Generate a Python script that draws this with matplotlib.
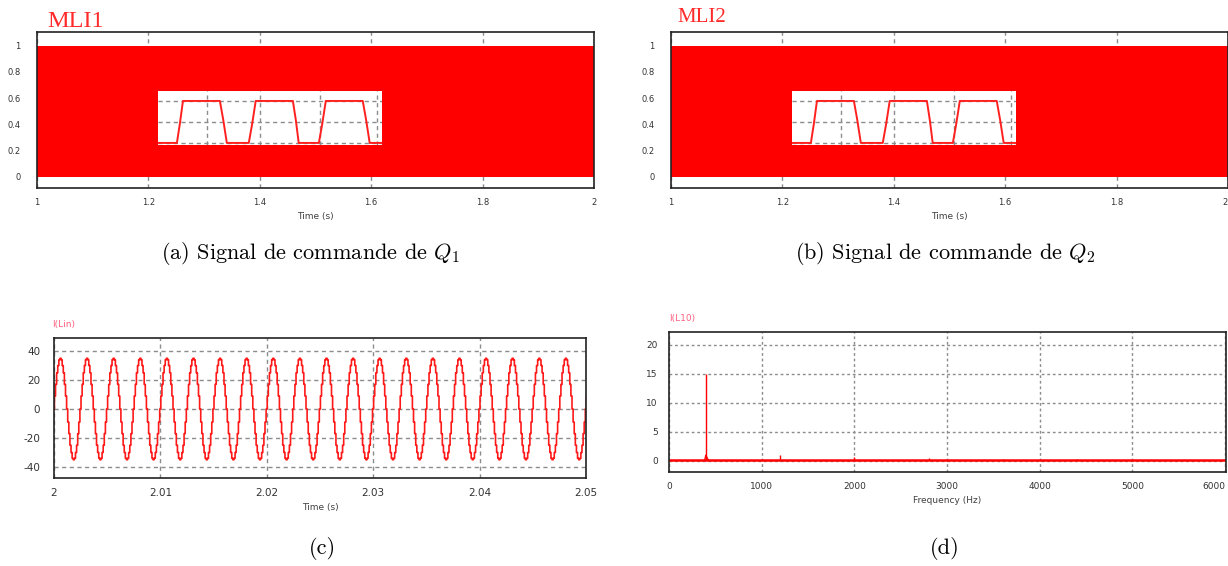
import numpy as np
import matplotlib
matplotlib.use("Agg")
import matplotlib.pyplot as plt

plt.rcParams.update({
    "font.family": "DejaVu Sans",
    "mathtext.fontset": "cm",
    "axes.unicode_minus": False,
})

# ---- data -------------------------------------------------------------
# (a)/(b) PWM command signals : band between low and high level over 1..2 s
pwm_t = [1.0, 2.0]
pwm_low = [0.0, 0.0]
pwm_high = [1.0, 1.0]
pwm_xticks = [1.0, 1.2, 1.4, 1.6, 1.8, 2.0]
pwm_xlabels = ["1", "1.2", "1.4", "1.6", "1.8", "2"]
pwm_yticks = [0, 0.2, 0.4, 0.6, 0.8, 1.0]
pwm_ylabels = ["0", "0.2", "0.4", "0.6", "0.8", "1"]

# zoomed inset of the pulses (normalised time / level)
zoom_t = [0.0, 0.085, 0.098, 0.112, 0.277, 0.292, 0.308, 0.406, 0.421, 0.437,
          0.603, 0.616, 0.629, 0.719, 0.734, 0.75, 0.915, 0.93, 0.946, 1.0]
zoom_v = [0.0, 0.0, 0.45, 1.0, 1.0, 0.55, 0.0, 0.0, 0.45, 1.0,
          1.0, 0.55, 0.0, 0.0, 0.45, 1.0, 1.0, 0.55, 0.0, 0.0]
zoom_grid_x = [0.218, 0.456, 0.722, 0.98]
zoom_grid_y = [0.0, 0.5, 1.0]

# (c) line current I(Lin): one period of the staircase waveform (starting at a peak)
lin_period_levels = [35, 34, 30, 25, 17, 9, 0, -9, -17, -25, -30, -34,
                     -35, -34, -30, -25, -17, -9, 0, 9, 17, 25, 30, 34]
lin_period = 0.0025        # s (400 Hz)
lin_first_peak = 2.00056   # s
lin_xticks = [2.0, 2.01, 2.02, 2.03, 2.04, 2.05]
lin_xlabels = ["2", "2.01", "2.02", "2.03", "2.04", "2.05"]
lin_yticks = [-40, -20, 0, 20, 40]

# (d) spectrum of I(L10)
spec_base = 0.15
harm_freq = [400, 1200, 2000, 2800, 3600, 4400]
harm_amp = [15.0, 1.0, 0.6, 0.5, 0.3, 0.3]
bump_freq = [385, 398, 402, 425]
bump_amp = [0.15, 1.0, 0.8, 0.15]
spec_xticks = [0, 1000, 2000, 3000, 4000, 5000, 6000]
spec_yticks = [0, 5, 10, 15, 20]

# ---- figure -----------------------------------------------------------
W, H = 1228, 566
fig = plt.figure(figsize=(W / 100, H / 100), dpi=100)


def add_ax(left, right, top, bottom):
    return fig.add_axes([left / W, (H - bottom) / H, (right - left) / W, (bottom - top) / H])


red = "#ff0000"
grid_col = "#8c8c8c"
tick_col = "#333333"


def style(ax, fs, padx, pady):
    for s in ax.spines.values():
        s.set_color("#222222")
        s.set_linewidth(1.2)
    ax.tick_params(length=0, labelsize=fs, colors=tick_col)
    ax.tick_params(axis="x", pad=padx)
    ax.tick_params(axis="y", pad=pady)


def pwm_panel(box, title, title_xy, title_fs, last_right=False):
    ax = add_ax(*box)
    ax.set_xlim(1, 2)
    ax.set_ylim(-0.085, 1.105)
    ax.grid(True, axis="x", color=grid_col, linestyle=(0, (3, 2.5)), lw=1, zorder=0)
    ax.fill_between(pwm_t, pwm_low, pwm_high, color=red, lw=0, zorder=2)
    ax.set_xticks(pwm_xticks)
    ax.set_xticklabels(pwm_xlabels)
    ax.set_yticks(pwm_yticks)
    ax.set_yticklabels(pwm_ylabels)
    style(ax, 6, 7, 12)
    if last_right:
        ax.get_xticklabels()[-1].set_ha("right")
    ax.set_xlabel("Time (s)", fontsize=6.5, color="#404040", labelpad=4)
    fig.text(title_xy[0] / W, 1 - title_xy[1] / H, title, color="#ff2a2a",
             fontsize=title_fs, family="Liberation Serif", va="baseline")

    ins = ax.inset_axes([0.217, 0.276, 0.402, 0.346])
    ins.set_facecolor("white")
    ins.set_zorder(5)
    ins.set_xlim(0, 1)
    ins.set_ylim(-0.048, 1.238)
    for x in zoom_grid_x:
        ins.axvline(x, color=grid_col, linestyle=(0, (3, 2.5)), lw=1)
    for y in zoom_grid_y:
        ins.axhline(y, color=grid_col, linestyle=(0, (3, 2.5)), lw=1)
    ins.plot(zoom_t, zoom_v, color="#ff2020", lw=1.4)
    ins.set_xticks([])
    ins.set_yticks([])
    for s in ins.spines.values():
        s.set_visible(False)
    return ax


pwm_panel((37, 594, 32, 188), "MLI1", (47, 27), 17.5)
pwm_panel((671, 1228, 32, 188), "MLI2", (677, 22), 15, last_right=True)

# (c)
axc = add_ax(54, 586, 338, 478)
t_lin = lin_first_peak - lin_period + np.arange(len(lin_period_levels) * 22) * (lin_period / len(lin_period_levels))
v_lin = np.tile(lin_period_levels, 22)
axc.grid(True, color=grid_col, linestyle=(0, (3, 2.5)), lw=1)
axc.step(t_lin, v_lin, where="post", color="#ff1a1a", lw=1.2)
axc.set_xlim(2.0, 2.05)
axc.set_ylim(-47.6, 49)
axc.set_xticks(lin_xticks)
axc.set_xticklabels(lin_xlabels)
axc.set_yticks(lin_yticks)
style(axc, 7.5, 7, 10)
axc.set_xlabel("Time (s)", fontsize=6.5, color="#404040", labelpad=4)
fig.text(52 / W, 1 - 325 / H, "I(Lin)", color="#ff6080", fontsize=6.5, va="center")

# (d)
axd = add_ax(669, 1226, 332, 472)
axd.grid(True, color=grid_col, linestyle=(0, (2, 2)), lw=1)
axd.axhline(spec_base, color=red, lw=1.8)
axd.plot(bump_freq, bump_amp, color=red, lw=1)
axd.vlines(harm_freq, spec_base, harm_amp, color=red, lw=1)
axd.set_xlim(0, 6010)
axd.set_ylim(-1.9, 22.2)
axd.set_xticks(spec_xticks)
axd.set_yticks(spec_yticks)
style(axd, 6.5, 7, 8)
axd.get_xticklabels()[-1].set_ha("right")
axd.set_xlabel("Frequency (Hz)", fontsize=6.5, color="#404040", labelpad=4)
fig.text(669 / W, 1 - 318 / H, "I(L10)", color="#ff6080", fontsize=6.5, va="center")

# captions
cap = dict(fontsize=16, family="cmr10", ha="center", va="center")
fig.text(310 / W, 1 - 253 / H, r"(a) Signal de commande de $Q_1$", **cap)
fig.text(945 / W, 1 - 253 / H, r"(b) Signal de commande de $Q_2$", **cap)
fig.text(322 / W, 1 - 548 / H, "(c)", **cap)
fig.text(945 / W, 1 - 548 / H, "(d)", **cap)

fig.savefig("out.png", dpi=100)
